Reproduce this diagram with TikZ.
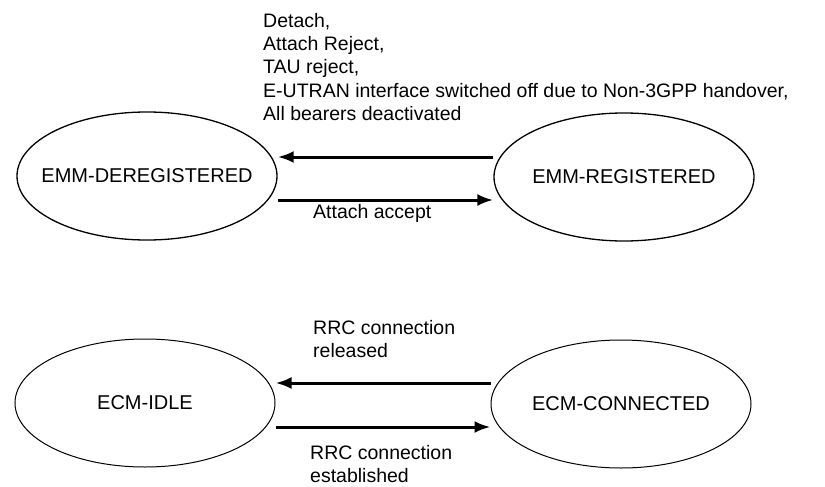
\documentclass[tikz,border=0pt]{standalone}
\usepackage{fontspec}
\setmainfont{Liberation Sans}
\usetikzlibrary{shapes.geometric,arrows.meta}
\begin{document}
\begin{tikzpicture}[x=1pt,y=-1pt,
  state/.style={ellipse,draw=black,line width=1.3pt,minimum width=260pt,minimum height=128pt,inner xsep=-50pt,inner ysep=0pt,font=\fontsize{20}{22}\selectfont},
  arr/.style={line width=3pt,-{Latex[length=16pt,width=12pt]}},
  lbl/.style={inner sep=0pt,align=left,font=\fontsize{19.5}{23.3}\selectfont}]
\useasboundingbox[fill=white] (0,0) rectangle (825,487);
\node[state] (dereg) at (147,176) {EMM-DEREGISTERED};
\node[state] (reg) at (624,177) {EMM-REGISTERED};
\node[state,line width=1pt] (idle) at (145,403) {ECM-IDLE};
\node[state,line width=1pt] (conn) at (621,404) {ECM-CONNECTED};
\draw[arr] ([yshift=20pt]reg.west) -- ([yshift=19pt]dereg.east);
\draw[arr] ([yshift=-24pt]dereg.east) -- ([yshift=-23pt]reg.west);
\draw[arr] ([yshift=21pt]conn.west) -- ([yshift=20pt]idle.east);
\draw[arr] ([yshift=-24pt]idle.east) -- ([yshift=-23pt]conn.west);
\node[lbl,anchor=north west] (top) at (263,13) {Detach,\\Attach Reject,\\TAU reject,\\E-UTRAN interface switched off due to Non-3GPP handover,\\All bearers deactivated};
\node[lbl,anchor=north west] (acc) at (313,204) {Attach accept};
\node[lbl,anchor=north west] (rel) at (313,320) {RRC connection\\released};
\node[lbl,anchor=north west] (est) at (310,445) {RRC connection\\established};
\end{tikzpicture}
\end{document}
